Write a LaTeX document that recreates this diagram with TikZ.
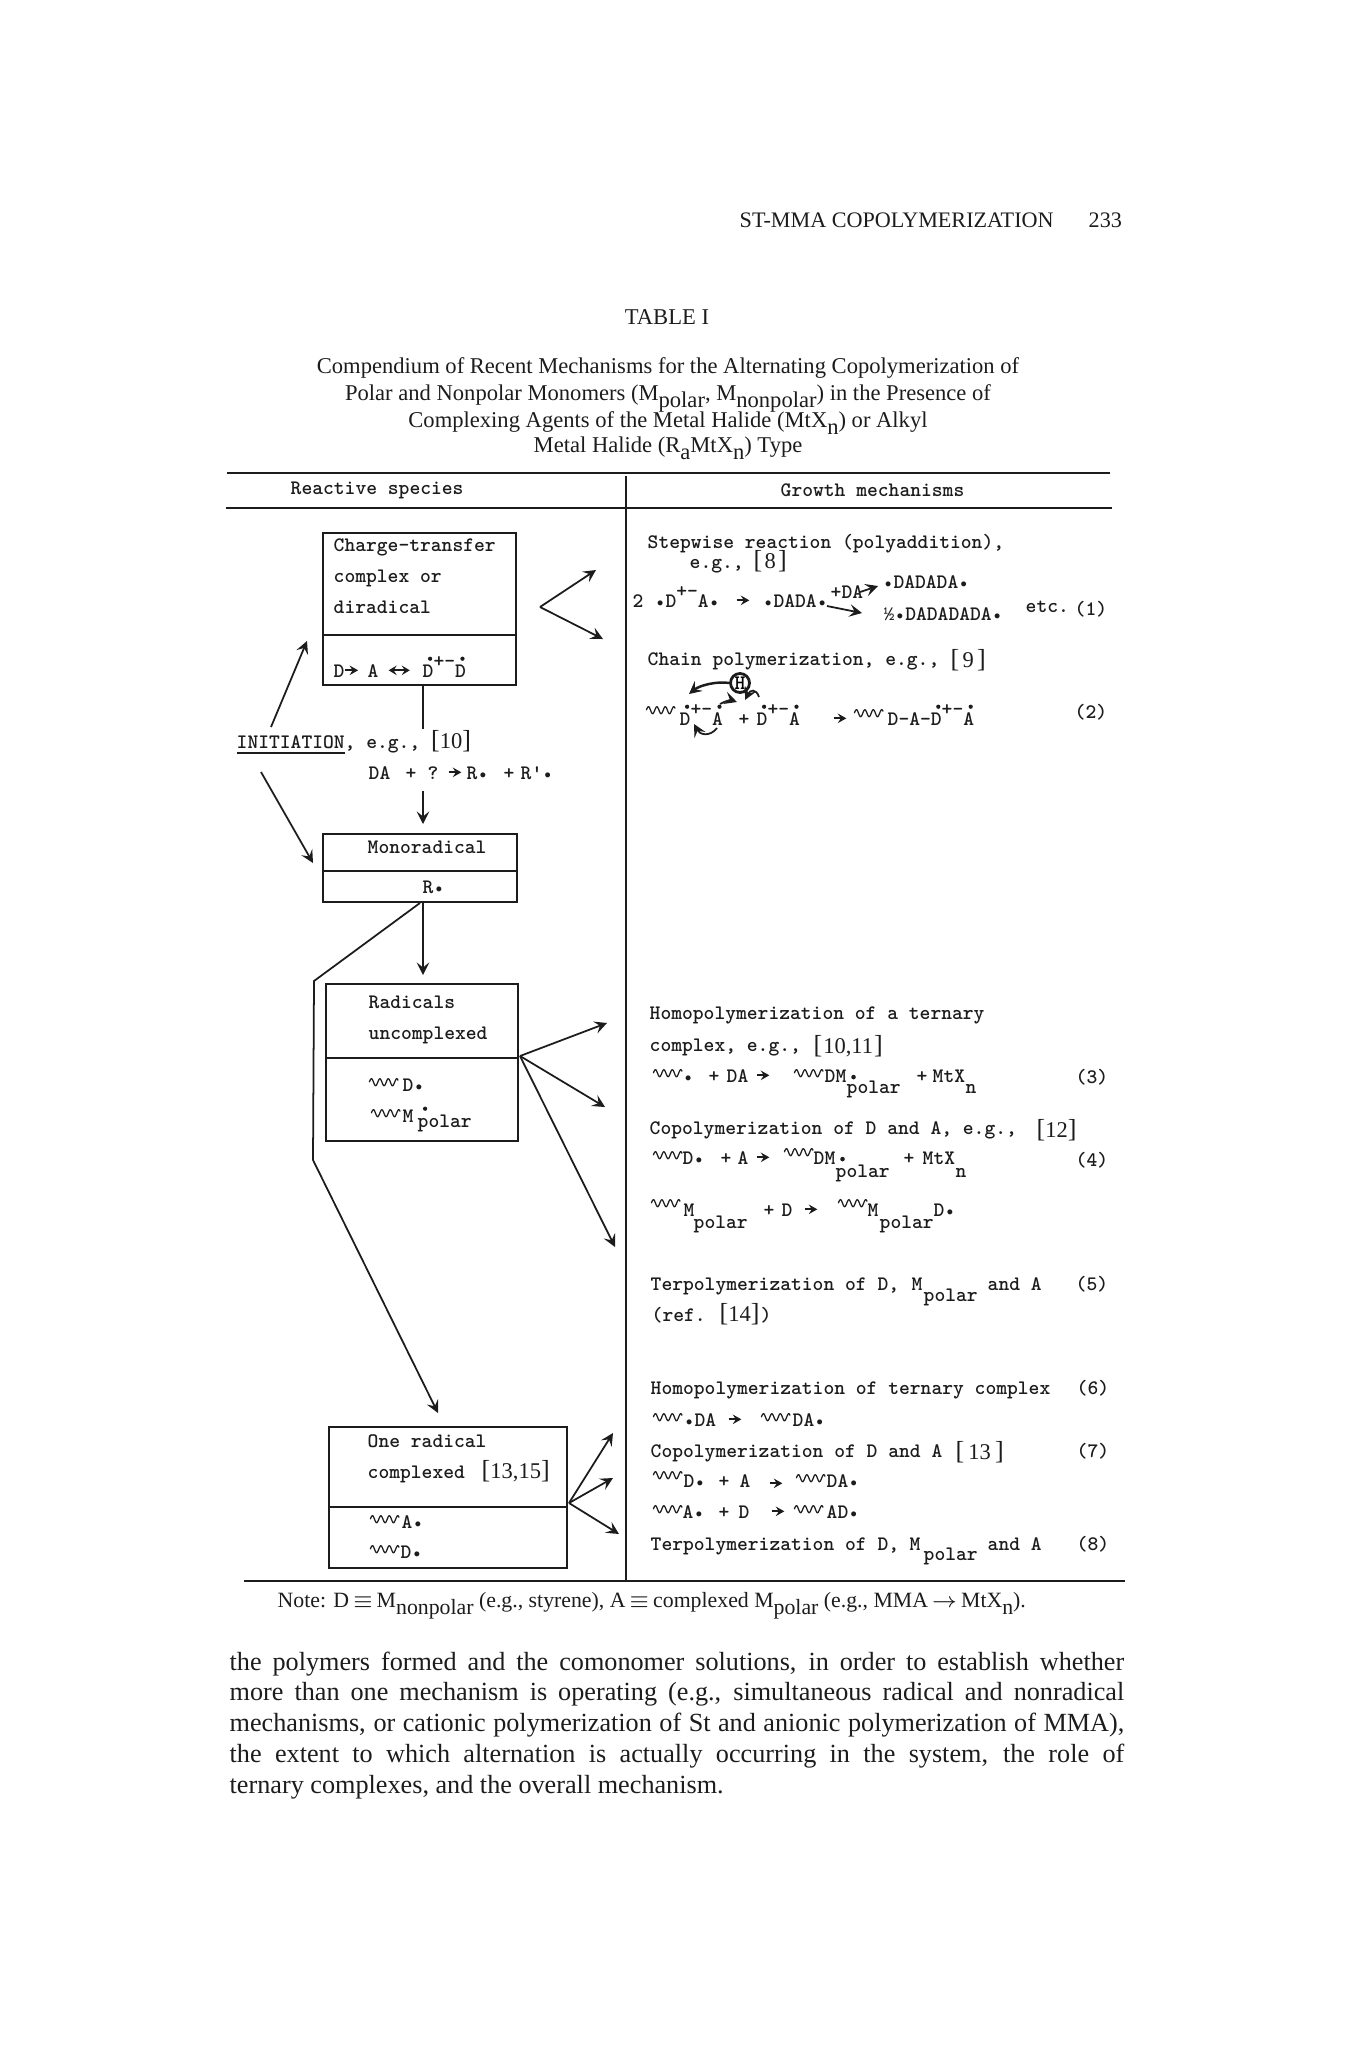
\documentclass[tikz,border=0pt]{standalone}
\usepackage{fontspec}
\setmainfont{Liberation Serif}
\usetikzlibrary{arrows.meta, positioning, calc}
\definecolor{inkk}{HTML}{1C1C1C}

% text sizes and small glyphs of the table
\newcommand{\monotext}{\fontsize{5.85}{7}\selectfont\ttfamily\bfseries}
\newcommand{\rdot}{\makebox[0.525em]{\scalebox{.85}{\textbullet}}}
\newcommand{\tdot}{\makebox[0pt][l]{\hspace{1.4pt}\tikz[baseline=0pt,x=1pt,y=1pt]\fill[inkk] (0,1.4) circle (.65);}}
\newcommand{\rar}{\tikz[baseline=0pt,x=1pt,y=1pt]\draw[line width=.55pt,-{Stealth[length=.85mm,width=.95mm,inset=.3mm]}] (0,1.9) -- (3.6,1.9);}
\newcommand{\lrar}{\tikz[baseline=0pt,x=1pt,y=1pt]\draw[line width=.55pt,{Stealth[length=.8mm,width=.95mm,inset=.3mm]}-{Stealth[length=.8mm,width=.95mm,inset=.3mm]}] (0,1.9) -- (6,1.9);}
\newcommand{\wv}{\tikz[baseline=0pt,x=1pt,y=1pt]\draw[line width=.35pt] plot[domain=0:8.2,samples=50,smooth] (\x,{2.5+1.0*sin(\x*150)});}
\newcommand{\dt}[1]{\makebox[0pt][l]{\hspace{1.5pt}\tikz[baseline=0pt,x=1pt,y=1pt]\fill[inkk] (0,5.2) circle (.6);}#1}
\newcommand{\ct}{\dt{D}\raisebox{2.6pt}{+-}\dt{A}}
\newcommand{\subs}[1]{\raisebox{-2.2pt}{#1}}
\newcommand{\refbr}[2]{\makebox[#1][s]{{\rmfamily\mdseries\fontsize{7.4}{7.4}\selectfont[}\hfil{\rmfamily\mdseries\fontsize{6.4}{7}\selectfont #2}\hfil{\rmfamily\mdseries\fontsize{7.4}{7.4}\selectfont]}}}

\tikzset{
  mono/.style={font=\monotext, text=inkk, anchor=base west, inner sep=0pt},
  capt/.style={font=\fontsize{6.42}{8}\selectfont, text=inkk, anchor=base, inner sep=0pt},
  boxpart/.style={draw=inkk, line width=.55pt, anchor=north west, inner sep=0pt},
  rule/.style={inkk, line width=.55pt},
  conn/.style={inkk, line width=.5pt},
  arr/.style={inkk, line width=.5pt, -{Stealth[length=1.25mm, width=1.25mm, inset=.5mm]}}
}

\begin{document}
\begin{tikzpicture}[x=0.01cm, y=-0.01cm]
\useasboundingbox (0,0) rectangle (1349,2048);

% Running head and caption
\node[capt, anchor=base west, font=\fontsize{6.3}{8}\selectfont] (head) at (739,227) {ST-MMA COPOLYMERIZATION};
\node[capt, anchor=base west, font=\fontsize{6.3}{8}\selectfont] (page) at (1088,227) {233};
\node[capt] (tabno) at (667,324) {TABLE I};
\node[capt] (cap1) at (668,373) {Compendium of Recent Mechanisms for the Alternating Copolymerization of};
\node[capt] (cap2) at (668,400) {Polar and Nonpolar Monomers (M\subs{polar}, M\subs{nonpolar}) in the Presence of};
\node[capt] (cap3) at (668,427) {Complexing Agents of the Metal Halide (MtX\subs{n}) or Alkyl};
\node[capt] (cap4) at (668,452) {Metal Halide (R\subs{a}MtX\subs{n}) Type};

% Table rules
\coordinate (topL) at (227,473);
\coordinate (topR) at (1110,473);
\coordinate (midL) at (226,508);
\coordinate (midR) at (1112,508);
\coordinate (botL) at (244,1581);
\coordinate (botR) at (1125,1581);
\coordinate (colT) at (626,476);
\coordinate (colB) at (626,1581);
\draw[rule] (topL) -- (topR);
\draw[rule] (midL) -- (midR);
\draw[rule] (botL) -- (botR);
\draw[rule] (colT) -- (colB);
\node[mono] (hdrL) at (290,494) {Reactive species};
\node[mono] (hdrR) at (780,496) {Growth mechanisms};

% Charge-transfer box
\node[boxpart, minimum width=1.93cm, minimum height=1.02cm] (box1a) at (322,532) {};
\node[boxpart, minimum width=1.93cm, minimum height=0.50cm] (box1b) at (322,634) {};
\node[mono] (ct1) at (333,551) {Charge-transfer};
\node[mono] (ct2) at (333,582) {complex or};
\node[mono] (ct3) at (333,613) {diradical};
\node[mono] (ct4) at (333,677) {D\rar};
\node[mono] (ct5) at (367,677) {A};
\node[mono] (ct6) at (387,677) {\lrar};
\node[mono] (ct7) at (422,677) {\dt{D}\raisebox{2.6pt}{+-}\dt{D}};

% Chevron to the right of it
\coordinate (chev) at (540,607);
\coordinate (chevU) at (596,570);
\coordinate (chevD) at (603,639);
\draw[arr] (chev) -- (chevU);
\draw[arr] (chev) -- (chevD);

% Initiation
\node[mono] (init) at (236,748) {\underline{INITIATION}, e.g., \refbr{0.39cm}{10}};
\node[mono] (da1) at (368,779) {DA};
\node[mono] (da2) at (405,779) {+};
\node[mono] (da3) at (427,779) {?};
\node[mono] (da4) at (447,779) {\rar};
\node[mono] (da5) at (466,779) {R\rdot};
\node[mono] (da6) at (503,779) {+};
\node[mono] (da7) at (520,779) {R'\rdot};
\coordinate (tap1) at (423,685);
\coordinate (tap2) at (423,729);
\coordinate (init1) at (271,727);
\coordinate (init1e) at (307,641);
\coordinate (init2) at (261,772);
\coordinate (init2e) at (313,863);
\coordinate (dn1) at (423,791);
\coordinate (dn1e) at (423,824);
\draw[conn] (tap1) -- (tap2);
\draw[arr] (init1) -- (init1e);
\draw[arr] (init2) -- (init2e);
\draw[arr] (dn1) -- (dn1e);

% Monoradical box
\node[boxpart, minimum width=1.94cm, minimum height=0.37cm] (box2a) at (322,833) {};
\node[boxpart, minimum width=1.94cm, minimum height=0.31cm] (box2b) at (322,870) {};
\node[mono] (mr1) at (367,853) {Monoradical};
\node[mono] (mr2) at (422,893) {R\rdot};

% Radicals uncomplexed box
\node[boxpart, minimum width=1.92cm, minimum height=0.74cm] (box3a) at (325,983) {};
\node[boxpart, minimum width=1.92cm, minimum height=0.83cm] (box3b) at (325,1057) {};
\node[mono] (ru1) at (368,1008) {Radicals};
\node[mono] (ru2) at (368,1039) {uncomplexed};
\node[mono] (ru3) at (368,1091) {\wv};
\node[mono] (ru4) at (402,1091) {D\rdot};
\node[mono] (ru5) at (370,1122) {\wv};
\node[mono] (ru6) at (402,1122) {M};
\node[mono] (ru7) at (417,1127) {\dt{p}olar};

% Branches from R
\coordinate (tapR) at (423,902);
\coordinate (tapRe) at (423,975);
\coordinate (brA) at (314,981);
\coordinate (brB) at (313,1160);
\coordinate (brC) at (438,1413);
\draw[arr] (tapR) -- (tapRe);
\draw[arr] (box2b.south) -- (brA) -- (brB) -- (brC);

% Arrows out of radicals box
\coordinate (rad) at (520,1056);
\coordinate (radA) at (607,1023);
\coordinate (radB) at (605,1107);
\coordinate (radC) at (615,1247);
\draw[arr] (rad) -- (radA);
\draw[arr] (rad) -- (radB);
\draw[arr] (rad) -- (radC);

% One radical box
\node[boxpart, minimum width=2.38cm, minimum height=0.80cm] (box4a) at (328,1426) {};
\node[boxpart, minimum width=2.38cm, minimum height=0.61cm] (box4b) at (328,1506) {};
\node[mono] (or1) at (367,1447) {One radical};
\node[mono] (or2) at (367,1478) {complexed};
\node[mono] (or3) at (481,1478) {\refbr{0.62cm}{13,15}};
\node[mono] (or4) at (369,1528) {\wv};
\node[mono] (or5) at (401,1528) {A\rdot};
\node[mono] (or6) at (369,1558) {\wv};
\node[mono] (or7) at (400,1558) {D\rdot};
\coordinate (one) at (569,1503);
\coordinate (oneA) at (613,1433);
\coordinate (oneB) at (613,1478);
\coordinate (oneC) at (619,1534);
\draw[arr] (one) -- (oneA);
\draw[arr] (one) -- (oneB);
\draw[arr] (one) -- (oneC);

% Stepwise reaction (1)
\node[mono] (st1) at (647,548) {Stepwise reaction (polyaddition),};
\node[mono] (st2) at (689,568) {e.g., };
\node[mono] (st3) at (753,568) {\refbr{0.33cm}{8}};
\node[mono] (st4) at (632,607) {2};
\node[mono] (st5) at (654,607) {\rdot D\raisebox{2.6pt}{+-}A\rdot};
\node[mono] (st6) at (735,607) {\rar};
\node[mono] (st7) at (762,607) {\rdot DADA\rdot};
\node[mono] (st8) at (830,598) {+DA};
\node[mono] (st9) at (882,588) {\rdot DADADA\rdot};
\node[mono] (st10) at (883,620) {½\rdot DADADADA\rdot};
\node[mono] (st11) at (1025,612) {etc.};
\node[mono] (eq1) at (1074,615) {(1)};
\coordinate (stA) at (860,592);
\coordinate (stAe) at (878,586);
\coordinate (stB) at (827,606);
\coordinate (stBe) at (862,613);
\draw[arr] (stA) -- (stAe);
\draw[arr] (stB) -- (stBe);

% Chain polymerization (2)
\node[mono] (ch1) at (647,665) {Chain polymerization, e.g.,};
\node[mono] (ch2) at (950,667) {\refbr{0.35cm}{9}};
\node[mono] (ch3) at (645,719) {\wv};
\node[mono] (ch4) at (679,725) {\ct};
\node[mono] (ch5) at (738,725) {+};
\node[mono] (ch6) at (756,725) {\ct};
\node[mono] (ch7) at (832,725) {\rar};
\node[mono] (ch8) at (853,722) {\wv};
\node[mono] (ch9) at (887,725) {D-A-\ct};
\node[mono] (eq2) at (1074,718) {(2)};
\node[draw=inkk, circle, line width=.8pt, minimum size=0.19cm, inner sep=0pt, font=\monotext] (hcirc) at (740,683) {H};
\coordinate (hA) at (689,694);
\coordinate (hB) at (720,704);
\coordinate (hBe) at (737,702);
\coordinate (hC) at (759,697);
\coordinate (hCe) at (745,700);
\coordinate (hD) at (717,728);
\coordinate (hDe) at (694,724);
\draw[arr, line width=.7pt] (hcirc.west) .. controls (718,681) and (700,685) .. (hA);
\draw[arr] (hB) .. controls (725,701) and (731,700) .. (hBe);
\draw[arr] (hC) .. controls (756,688) and (750,690) .. (hCe);
\draw[arr] (hD) .. controls (710,737) and (700,735) .. (hDe);

% Homopolymerization (3)
\node[mono] (ho1) at (649,1019) {Homopolymerization of a ternary};
\node[mono] (ho2) at (649,1051) {complex, e.g.,};
\node[mono] (ho3) at (813,1053) {\refbr{0.69cm}{10,11}};
\node[mono] (ho4) at (652,1082) {\wv\rdot};
\node[mono] (ho5) at (708,1082) {+};
\node[mono] (ho6) at (726,1082) {DA};
\node[mono] (ho7) at (755,1082) {\rar};
\node[mono] (ho8) at (793,1082) {\wv};
\node[mono] (ho9) at (824,1082) {DM\tdot};
\node[mono] (ho10) at (846,1093) {polar};
\node[mono] (ho11) at (916,1082) {+};
\node[mono] (ho12) at (932,1082) {MtX};
\node[mono] (ho13) at (965,1093) {n};
\node[mono] (eq3) at (1075,1083) {(3)};

% Copolymerization (4)
\node[mono] (co1) at (649,1134) {Copolymerization of D and A, e.g.,};
\node[mono] (co2) at (1036,1137) {\refbr{0.32cm}{12}};
\node[mono] (co3) at (652,1164) {\wv};
\node[mono] (co4) at (682,1164) {D\rdot};
\node[mono] (co5) at (720,1164) {+};
\node[mono] (co6) at (737,1164) {A};
\node[mono] (co7) at (755,1164) {\rar};
\node[mono] (co8) at (783,1161) {\wv};
\node[mono] (co9) at (813,1164) {DM\tdot};
\node[mono] (co10) at (835,1177) {polar};
\node[mono] (co11) at (903,1164) {+};
\node[mono] (co12) at (922,1164) {MtX};
\node[mono] (co13) at (955,1177) {n};
\node[mono] (eq4) at (1075,1166) {(4)};
\node[mono] (co14) at (650,1212) {\wv};
\node[mono] (co15) at (683,1216) {M};
\node[mono] (co16) at (693,1228) {polar};
\node[mono] (co17) at (763,1216) {+};
\node[mono] (co18) at (781,1216) {D};
\node[mono] (co19) at (803,1216) {\rar};
\node[mono] (co20) at (837,1212) {\wv};
\node[mono] (co21) at (867,1216) {M};
\node[mono] (co22) at (879,1228) {polar};
\node[mono] (co23) at (933,1216) {D\rdot};

% Terpolymerization (5)
\node[mono] (te1) at (650,1290) {Terpolymerization of D,};
\node[mono] (te2) at (911,1290) {M};
\node[mono] (te3) at (923,1301) {polar};
\node[mono] (te4) at (987,1290) {and A};
\node[mono] (eq5) at (1075,1290) {(5)};
\node[mono] (te5) at (651,1321) {(ref.};
\node[mono] (te6) at (719,1321) {\refbr{0.38cm}{14}};
\node[mono] (te7) at (760,1321) {)};

% Ternary complex (6) to (8)
\node[mono] (tc1) at (650,1394) {Homopolymerization of ternary complex};
\node[mono] (eq6) at (1076,1394) {(6)};
\node[mono] (tc2) at (652,1426) {\wv};
\node[mono] (tc3) at (683,1426) {\rdot DA};
\node[mono] (tc4) at (727,1426) {\rar};
\node[mono] (tc5) at (760,1426) {\wv};
\node[mono] (tc6) at (792,1426) {DA\rdot};
\node[mono] (tc7) at (650,1457) {Copolymerization of D and A};
\node[mono] (tc8) at (955,1459) {\refbr{0.48cm}{13}};
\node[mono] (eq7) at (1076,1457) {(7)};
\node[mono] (tc9) at (652,1484) {\wv};
\node[mono] (tc10) at (683,1487) {D\rdot};
\node[mono] (tc11) at (718,1487) {+};
\node[mono] (tc12) at (739,1487) {A};
\node[mono] (tc13) at (768,1490) {\rar};
\node[mono] (tc14) at (795,1487) {\wv};
\node[mono] (tc15) at (826,1487) {DA\rdot};
\node[mono] (tc16) at (652,1518) {\wv};
\node[mono] (tc17) at (682,1518) {A\rdot};
\node[mono] (tc18) at (718,1518) {+};
\node[mono] (tc19) at (738,1518) {D};
\node[mono] (tc20) at (770,1518) {\rar};
\node[mono] (tc21) at (793,1518) {\wv};
\node[mono] (tc22) at (826,1518) {AD\rdot};
\node[mono] (tc23) at (650,1550) {Terpolymerization of D,};
\node[mono] (tc24) at (909,1550) {M};
\node[mono] (tc25) at (923,1560) {polar};
\node[mono] (tc26) at (987,1550) {and A};
\node[mono] (eq8) at (1076,1550) {(8)};

% Note and body text
\node[capt, anchor=base west, font=\fontsize{6.2}{8}\selectfont] (note) at (277,1607) {Note: D\,$\equiv$\,M\subs{nonpolar} (e.g., styrene), A\,$\equiv$\,complexed M\subs{polar} (e.g., MMA\,$\rightarrow$\,MtX\subs{n}).};
\node[anchor=north west, inner sep=0pt, text width=8.94cm, align=justify, text=inkk,
  font=\fontsize{7.45}{8.75}\selectfont] (body) at (229,1651)
  {the polymers formed and the comonomer solutions, in order to establish whether\linebreak
   more than one mechanism is operating (e.g., simultaneous radical and nonradical\linebreak
   mechanisms, or cationic polymerization of St and anionic polymerization of MMA),\linebreak
   the extent to which alternation is actually occurring in the system, the role of\linebreak
   ternary complexes, and the overall mechanism.};

\end{tikzpicture}
\end{document}
